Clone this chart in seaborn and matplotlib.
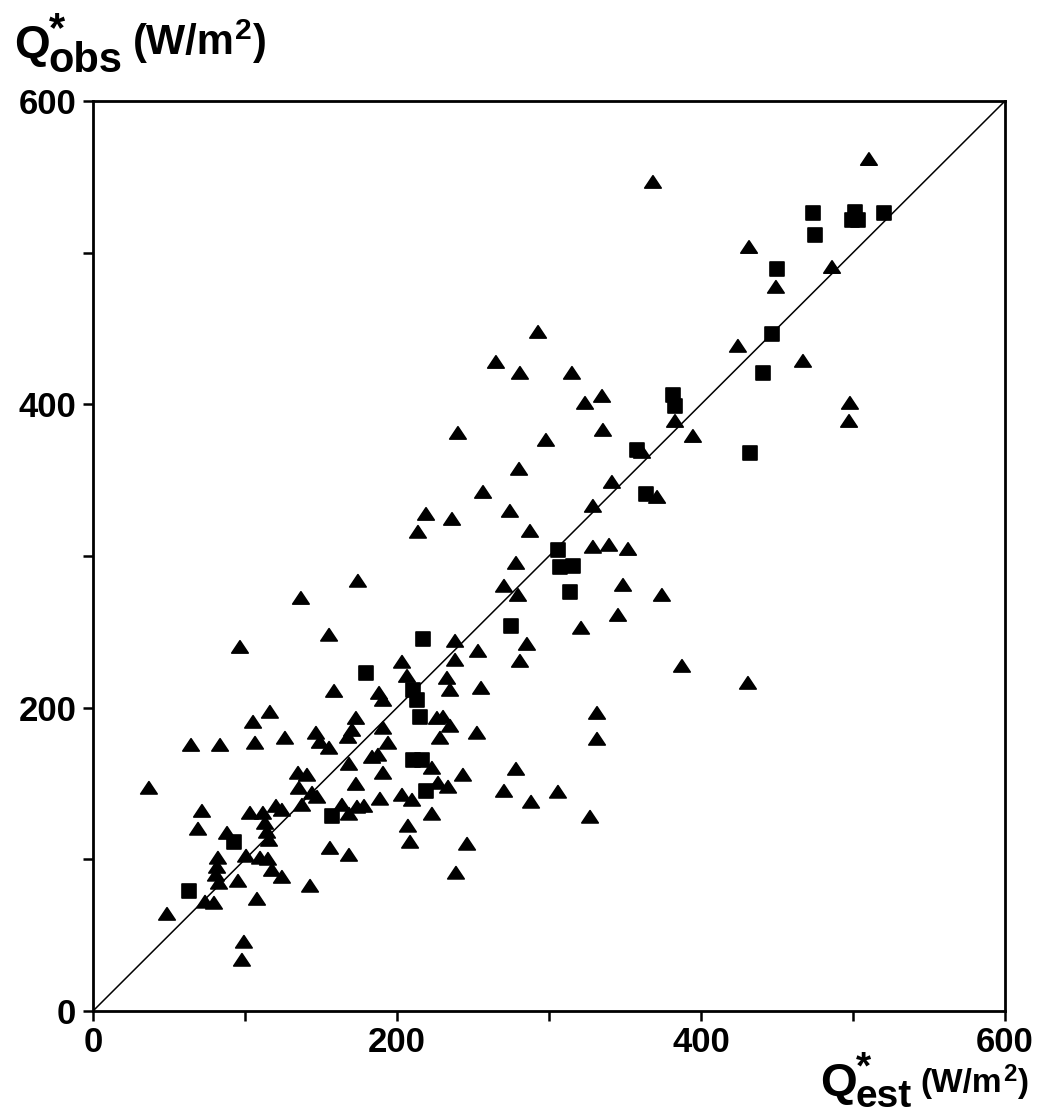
import numpy as np
import pandas as pd
import matplotlib
matplotlib.use("Agg")
import matplotlib.pyplot as plt
from matplotlib.markers import MarkerStyle
from matplotlib.path import Path
import seaborn as sns

# Estimated (x) and observed (y) net radiation, W/m2
tri_est = [36.8, 48.7, 69.1, 71.7, 73.7, 79.6, 80.9, 81.6, 82.2, 82.9, 88.2, 95.4, 98.0, 99.3,
           100.7, 103.3, 107.9, 109.9, 111.8, 113.2, 114.5, 115.8, 115.1, 117.8, 120.4, 124.3,
           124.3, 134.9, 140.8, 135.5, 137.5, 144.1, 147.4, 142.8, 155.9, 163.8, 168.4, 168.4,
           173.7, 178.3, 168.4, 173.0, 188.8, 190.8, 174.3, 136.8, 155.3, 96.7, 158.6, 188.2,
           190.8, 116.4, 105.3, 173.0, 170.4, 167.8, 146.7, 149.3, 155.3, 190.8, 106.6, 126.3,
           64.5, 83.6, 194.1, 183.6, 187.5,
           278.3, 270.4, 279.6, 348.7, 345.4, 321.1, 238.2, 253.3, 285.5, 280.9, 203.3, 238.2,
           206.6, 232.9, 234.9, 255.3, 226.3, 230.3, 234.9, 228.3, 252.6, 331.6, 331.6, 223.0,
           243.4, 278.3, 227.0, 233.6, 270.4, 288.2, 305.9, 203.3, 209.9, 223.0, 327.0, 207.2,
           208.6, 246.1, 238.8,
           292.8, 265.1, 280.9, 315.1, 334.9, 323.7, 335.5, 240.1, 298.0, 280.3, 256.6, 219.1,
           236.2, 213.8, 274.3, 287.5, 341.4, 328.9, 361.2, 382.9, 394.7, 371.1, 328.9, 339.5,
           352.0, 374.3, 387.5, 430.9,
           510.5, 368.4, 431.6, 449.3, 486.2, 424.3, 467.1, 498.0, 497.4]
tri_obs = [147.0, 63.9, 120.0, 131.8, 71.9, 71.2, 89.7, 94.9, 100.9, 84.4, 117.3, 85.7, 33.6, 45.5,
           102.2, 130.5, 73.8, 100.9, 130.5, 123.9, 118.0, 112.7, 100.2, 92.9, 135.1, 132.5,
           88.3, 156.9, 155.6, 147.0, 135.8, 143.7, 141.1, 82.4, 107.4, 135.8, 129.9, 102.8,
           134.5, 135.1, 162.8, 149.6, 139.8, 156.9, 283.5, 272.2, 247.9, 239.9, 210.9, 209.6,
           205.0, 197.1, 190.5, 193.1, 185.2, 180.6, 183.3, 177.3, 173.4, 186.6, 176.7, 180.0,
           175.3, 175.3, 176.7, 167.4, 168.8,
           295.3, 280.2, 274.2, 280.8, 261.0, 252.5, 243.9, 237.3, 241.9, 230.7, 230.1, 231.4,
           220.8, 219.5, 211.6, 212.9, 193.1, 193.8, 187.9, 180.0, 183.3, 196.4, 179.3, 160.2,
           155.6, 159.5, 150.3, 147.7, 145.0, 137.8, 144.4, 142.4, 139.1, 129.9, 127.9, 122.0,
           111.4, 110.1, 91.0,
           447.6, 427.8, 420.6, 420.6, 405.4, 400.8, 383.0, 381.0, 376.4, 357.3, 342.1, 327.6,
           324.3, 315.8, 329.6, 316.4, 348.7, 332.9, 368.5, 388.9, 379.0, 338.8, 305.9, 307.2,
           304.5, 274.2, 227.4, 216.2,
           561.6, 546.5, 503.6, 477.3, 490.4, 438.4, 428.5, 400.8, 388.9]

sq_est = [63.2, 92.8, 157.2, 179.6, 210.5, 213.2, 215.1, 217.1, 275.0, 210.5, 216.4, 219.1,
          307.2, 315.8, 313.8, 305.9, 357.9, 363.8, 381.6, 382.9, 432.2, 440.8, 446.7, 450.0,
          473.7, 475.0, 501.3, 499.3, 503.3, 520.4]
sq_obs = [79.1, 111.4, 128.5, 222.8, 211.6, 205.0, 193.8, 245.2, 253.8, 165.5, 165.5, 145.0,
          292.7, 293.3, 276.2, 303.9, 369.8, 340.8, 406.1, 398.8, 367.8, 420.6, 446.3, 489.1,
          526.0, 511.5, 526.7, 521.4, 521.4, 526.0]

ticks = [0, 100, 200, 300, 400, 500, 600]
tick_labels = ["0", "", "200", "", "400", "", "600"]

df = pd.DataFrame({
    "est": tri_est + sq_est,
    "obs": tri_obs + sq_obs,
    "kind": ["tri"] * len(tri_est) + ["sq"] * len(sq_est),
})

sns.set_theme(style="white")
FONT = ["Liberation Sans", "DejaVu Sans"]
plt.rcParams["font.family"] = FONT
plt.rcParams["font.weight"] = "bold"

W, H = 1040, 1120
fig = plt.figure(figsize=(W / 100, H / 100), dpi=100)
ax = fig.add_axes([93 / W, 1 - 1011 / H, (1005 - 93) / W, (1011 - 101) / H])

# flat, wide triangle and plain square markers
tri_path = Path([(-1, -0.72), (1, -0.72), (0, 0.78), (-1, -0.72)], closed=True)
sq_path = Path([(-1, -1), (1, -1), (1, 1), (-1, 1), (-1, -1)], closed=True)
markers = {"tri": MarkerStyle(tri_path), "sq": MarkerStyle(sq_path)}

sns.scatterplot(data=df, x="est", y="obs", style="kind", size="kind",
                markers=markers, sizes={"tri": 140, "sq": 100},
                color="black", edgecolor="black", linewidth=1.2,
                legend=False, ax=ax, zorder=3)

# 1:1 line
ax.plot([0, 600], [0, 600], color="black", lw=1.1, zorder=2)

ax.set_xlim(0, 600)
ax.set_ylim(0, 600)
ax.set_xticks(ticks)
ax.set_yticks(ticks)
ax.set_xticklabels(tick_labels)
ax.set_yticklabels(tick_labels)
ax.set_xlabel("")
ax.set_ylabel("")
for s in ax.spines.values():
    s.set_visible(True)
    s.set_color("black")
    s.set_linewidth(2.0)
ax.tick_params(axis="both", direction="out", length=7, width=1.8, color="black",
               labelsize=25, labelcolor="black", bottom=True, left=True)
ax.tick_params(axis="x", pad=4)
ax.tick_params(axis="y", pad=5)
for lab in ax.get_xticklabels() + ax.get_yticklabels():
    lab.set_fontweight("bold")
    lab.set_family(FONT)

fig.canvas.draw()
renderer = fig.canvas.get_renderer()


def put(x, y, s, size, va="baseline", **kw):
    """Place text with its left edge at pixel x and anchor y in pixels from the top."""
    t = fig.text(x / W, 1 - y / H, s, fontsize=size, fontweight="bold",
                 family=FONT, ha="left", va=va, color="black", **kw)
    return t.get_window_extent(renderer=renderer)


def axis_label(x0, base, sub, q_size, sub_size, unit_size, sub_drop, gap):
    xq = put(x0, base, "Q", q_size).x1
    # star stacked over the subscript in one text block
    bb = put(xq - 1, base + sub_drop, "*\n" + sub, sub_size, va="bottom",
             linespacing=0.72)
    # shift so the subscript line sits on its baseline
    xs = bb.x1
    xp = put(xs + gap, base - 4, "(W/m", unit_size).x1
    x2 = put(xp + 1, base - 0.62 * unit_size, "2", unit_size * 0.72).x1
    put(x2 + 1, base - 4, ")", unit_size)


axis_label(14, 58, "obs", 33, 30, 30, 23, 10)
axis_label(820, 1096, "est", 34, 28, 24, 19, 8)

fig.savefig("out.png", dpi=100, facecolor="white")
